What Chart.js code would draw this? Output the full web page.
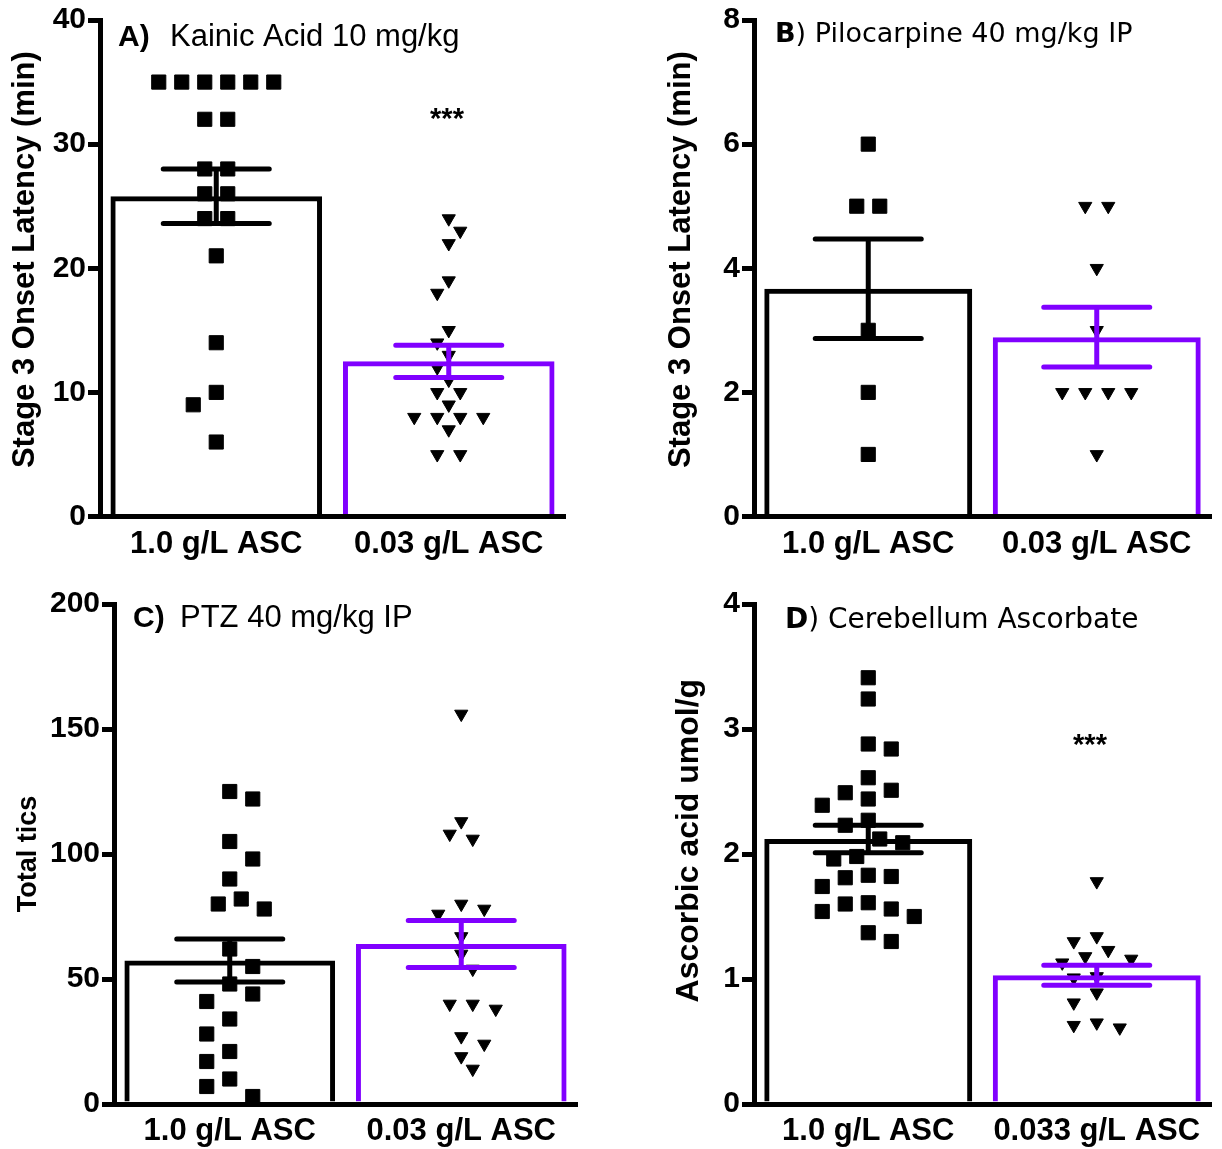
<!DOCTYPE html>
<html><head><meta charset="utf-8">
<script src="https://cdn.jsdelivr.net/npm/chart.js@4.4.0/dist/chart.umd.min.js"></script>
<style>
html,body{margin:0;padding:0;background:#fff;}
#wrap{position:relative;width:1222px;height:1149px;overflow:hidden;background:#fff;}
canvas{position:absolute;}
</style></head><body>
<div id="wrap">
<canvas id="cA" width="611" height="575" style="left:0;top:0"></canvas>
<canvas id="cB" width="611" height="575" style="left:611px;top:0"></canvas>
<canvas id="cC" width="611" height="574" style="left:0;top:575px"></canvas>
<canvas id="cD" width="611" height="574" style="left:611px;top:575px"></canvas>
</div>
<script>
// ---------- data ----------
const categoriesABC = ['1.0 g/L ASC', '0.03 g/L ASC'];
const categoriesD = ['1.0 g/L ASC', '0.033 g/L ASC'];

const kainicHighAsc = [35,35,35,35,35,35,32,32,28,28,26,26,24,24,21,14,10,9,6];
const kainicLowAsc = [24,23,22,19,18,15,14,13,12,11,10,10,9,8,8,8,8,7,5,5];
const kainicMean = [25.8, 12.5];
const kainicSem = [2.2, 1.3];
const kainicTicks = [0,10,20,30,40];

const pilocarpineHighAsc = [6,5,5,3,2,1];
const pilocarpineLowAsc = [5,5,4,3,2,2,2,2,1];
const pilocarpineMean = [3.67, 2.89];
const pilocarpineSem = [0.8, 0.48];
const pilocarpineTicks = [0,2,4,6,8];

const ptzHighAsc = [125,122,105,98,90,82,80,78,62,55,48,44,41,34,28,21,17,10,7,3];
const ptzLowAsc = [156,113,108,106,80,78,76,67,60,54,40,40,38,27,24,19,14];
const ptzMean = [57.4, 64.0];
const ptzSem = [8.6, 9.4];
const ptzTicks = [0,50,100,150,200];

const cerebHighAsc = [3.41,3.24,2.88,2.84,2.61,2.51,2.49,2.44,2.39,2.27,2.23,2.12,2.09,1.98,1.96,1.83,1.82,1.81,1.74,1.61,1.60,1.56,1.54,1.50,1.37,1.30];
const cerebLowAsc = [1.78,1.34,1.30,1.23,1.18,1.16,1.13,1.02,1.01,0.89,0.81,0.65,0.63,0.61];
const cerebMean = [2.12, 1.03];
const cerebSem = [0.11, 0.08];
const cerebTicks = [0,1,2,3,4];

// ---------- styles ----------
const BLACK = '#000000';
const PURPLE = '#8000ff';
const FONT = "'Liberation Sans', Arial, sans-serif";
const FONT2 = "'DejaVu Sans', Verdana, sans-serif";
const SP = '\u00a0';

// simple beeswarm layout (pixel offsets) computed from the y pixel positions
function swarm(py, step, minDist) {
  const h = step / 2;
  const order = py.map((_, i) => i).sort((a, b) => py[a] - py[b]);
  const placed = [];
  const offs = new Array(py.length).fill(0);
  let k = 0, gi = 0;
  while (k < order.length) {
    const grp = [order[k]];
    let j = k + 1;
    while (j < order.length && Math.abs(py[order[j]] - py[order[k]]) < 0.5) { grp.push(order[j]); j++; }
    const n = grp.length;
    const flip = gi % 2 ? 1 : -1;
    for (let m = 0; m < 400; m++) {
      const c = m === 0 ? 0 : (m % 2 ? flip : -flip) * Math.ceil(m / 2) * h;
      const xc = grp.map((_, q) => c + (q - (n - 1) / 2) * step);
      const ok = grp.every((id, q) => placed.every(pt => Math.hypot(pt.x - xc[q], pt.y - py[id]) >= minDist));
      if (ok) {
        grp.forEach((id, q) => { offs[id] = xc[q]; placed.push({ x: xc[q], y: py[id] }); });
        break;
      }
    }
    k = j; gi++;
  }
  return offs;
}

function makePanel(p) {
  const colors = [BLACK, PURPLE];
  const errPlugin = {
    id: 'errbars_' + p.id,
    afterDatasetsDraw(chart) {
      const c = chart.ctx, xs = chart.scales.x, ys = chart.scales.y;
      c.save();
      p.mean.forEach((m, i) => {
        const x = xs.getPixelForValue(i);
        const hi = ys.getPixelForValue(m + p.sem[i]);
        const lo = ys.getPixelForValue(m - p.sem[i]);
        c.strokeStyle = colors[i];
        c.lineWidth = 5;
        c.lineCap = 'round';
        c.beginPath();
        c.moveTo(x, hi); c.lineTo(x, lo);
        c.moveTo(x - 53, hi); c.lineTo(x + 53, hi);
        c.moveTo(x - 53, lo); c.lineTo(x + 53, lo);
        c.stroke();
      });
      c.restore();
    }
  };
  const titlePlugin = {
    id: 'ptitle_' + p.id,
    afterDraw(chart) {
      const c = chart.ctx;
      c.save();
      c.fillStyle = BLACK;
      c.textBaseline = 'alphabetic';
      c.textAlign = 'left';
      let x = 0;
      p.titleParts.forEach(part => {
        c.font = part.font;
        if (part.x !== undefined) x = part.x;
        c.fillText(part.text, x, p.titleY);
        x += c.measureText(part.text).width;
      });
      if (p.star) {
        c.font = 'bold 29px ' + FONT;
        c.textAlign = 'center';
        c.fillText('***', p.star.x, p.star.y);
      }
      c.restore();
    }
  };

  const chart = new Chart(document.getElementById(p.id), {
    type: 'bar',
    data: {
      datasets: [
        {
          type: 'bar',
          data: p.mean.map((m, i) => ({ x: i, y: m })),
          backgroundColor: 'rgba(0,0,0,0)',
          borderColor: colors,
          borderWidth: 5,
          barPercentage: 0.91,
          categoryPercentage: 1,
          order: 0
        },
        {
          type: 'scatter',
          data: p.high.map(v => ({ x: 0, y: v })),
          pointStyle: 'rect',
          pointRadius: 10,
          pointBackgroundColor: BLACK,
          pointBorderColor: BLACK,
          pointBorderWidth: 1,
          order: 1
        },
        {
          type: 'scatter',
          data: p.low.map(v => ({ x: 1, y: v })),
          pointStyle: 'triangle',
          pointRotation: 180,
          pointRadius: 7.6,
          pointBackgroundColor: BLACK,
          pointBorderColor: BLACK,
          pointBorderWidth: 1,
          order: 1
        }
      ]
    },
    options: {
      responsive: false,
      animation: false,
      events: [],
      layout: { padding: p.pad },
      plugins: { legend: { display: false }, tooltip: { enabled: false } },
      scales: {
        x: {
          type: 'linear', min: -0.5, max: 1.5, offset: false,
          afterBuildTicks: s => { s.ticks = p.cats.map((_, i) => ({ value: i })); },
          ticks: {
            callback: v => p.cats[v],
            color: BLACK,
            font: { family: FONT, size: 31, weight: 'bold' },
            padding: p.xPad, maxRotation: 0, autoSkip: false
          },
          grid: { display: false, drawTicks: false, offset: false },
          border: { display: true, color: BLACK, width: 5 },
          afterFit: s => { s.height = p.xH; }
        },
        y: {
          type: 'linear', min: p.ticks[0], max: p.ticks[p.ticks.length - 1],
          afterBuildTicks: s => { s.ticks = p.ticks.map(v => ({ value: v })); },
          ticks: { color: BLACK, font: { family: FONT, size: 30, weight: 'bold' }, padding: 2 },
          grid: { drawOnChartArea: false, drawTicks: true, tickLength: 12, tickWidth: 5, tickColor: BLACK, lineWidth: 5, color: BLACK },
          border: { display: true, color: BLACK, width: 5 },
          title: {
            display: true, text: p.yTitle, color: BLACK,
            font: { family: FONT, size: p.yTitleSize, weight: 'bold' },
            padding: { top: p.yTitlePad, bottom: 0 }
          },
          afterFit: s => { s.width = p.yW; }
        }
      }
    },
    plugins: [errPlugin, titlePlugin]
  });

  // spread points horizontally (beeswarm) using the library's scales
  const xs = chart.scales.x, ys = chart.scales.y;
  const unit = xs.getPixelForValue(1) - xs.getPixelForValue(0);
  [p.high, p.low].forEach((vals, g) => {
    const offs = swarm(vals.map(v => ys.getPixelForValue(v)), 23, g === 0 ? 21 : 16);
    chart.data.datasets[g + 1].data = vals.map((v, i) => ({ x: g + offs[i] / unit, y: v }));
  });
  chart.update('none');
  return chart;
}

makePanel({
  id: 'cA', cats: categoriesABC, high: kainicHighAsc, low: kainicLowAsc,
  mean: kainicMean, sem: kainicSem, ticks: kainicTicks,
  yTitle: SP + SP + 'Stage 3 Onset Latency (min)', yTitleSize: 31, yTitlePad: 7,
  pad: { left: 0, top: 19, right: 46, bottom: 0 }, yW: 100, xH: 58.5, xPad: 9,
  titleParts: [{ x: 118, text: 'A)', font: 'bold 30px ' + FONT }, { x: 170, text: 'Kainic Acid 10 mg/kg', font: '31px ' + FONT }],
  titleY: 46, star: { x: 447, y: 128 }
});

makePanel({
  id: 'cB', cats: categoriesABC, high: pilocarpineHighAsc, low: pilocarpineLowAsc,
  mean: pilocarpineMean, sem: pilocarpineSem, ticks: pilocarpineTicks,
  yTitle: SP + SP + 'Stage 3 Onset Latency (min)', yTitleSize: 31, yTitlePad: 7,
  pad: { left: 45, top: 19, right: 4, bottom: 0 }, yW: 98, xH: 58.5, xPad: 9,
  titleParts: [{ x: 164, text: 'B', font: 'bold 27px ' + FONT2 }, { text: ') Pilocarpine 40 mg/kg IP', font: '27px ' + FONT2 }],
  titleY: 42
});

makePanel({
  id: 'cC', cats: categoriesABC, high: ptzHighAsc, low: ptzLowAsc,
  mean: ptzMean, sem: ptzSem, ticks: ptzTicks,
  yTitle: 'Total tics', yTitleSize: 27, yTitlePad: 12,
  pad: { left: 0, top: 29, right: 34, bottom: 0 }, yW: 114, xH: 45, xPad: 9,
  titleParts: [{ x: 133, text: 'C)', font: 'bold 30px ' + FONT }, { x: 180, text: 'PTZ 40 mg/kg IP', font: '31px ' + FONT }],
  titleY: 52
});

makePanel({
  id: 'cD', cats: categoriesD, high: cerebHighAsc, low: cerebLowAsc,
  mean: cerebMean, sem: cerebSem, ticks: cerebTicks,
  yTitle: SP + SP + SP + 'Ascorbic acid umol/g', yTitleSize: 32, yTitlePad: 7,
  pad: { left: 52, top: 29, right: 4, bottom: 0 }, yW: 91, xH: 45, xPad: 9,
  titleParts: [{ x: 174, text: 'D', font: 'bold 28px ' + FONT2 }, { text: ') Cerebellum Ascorbate', font: '28px ' + FONT2 }],
  titleY: 53, star: { x: 479, y: 179 }
});
</script>
</body></html>
